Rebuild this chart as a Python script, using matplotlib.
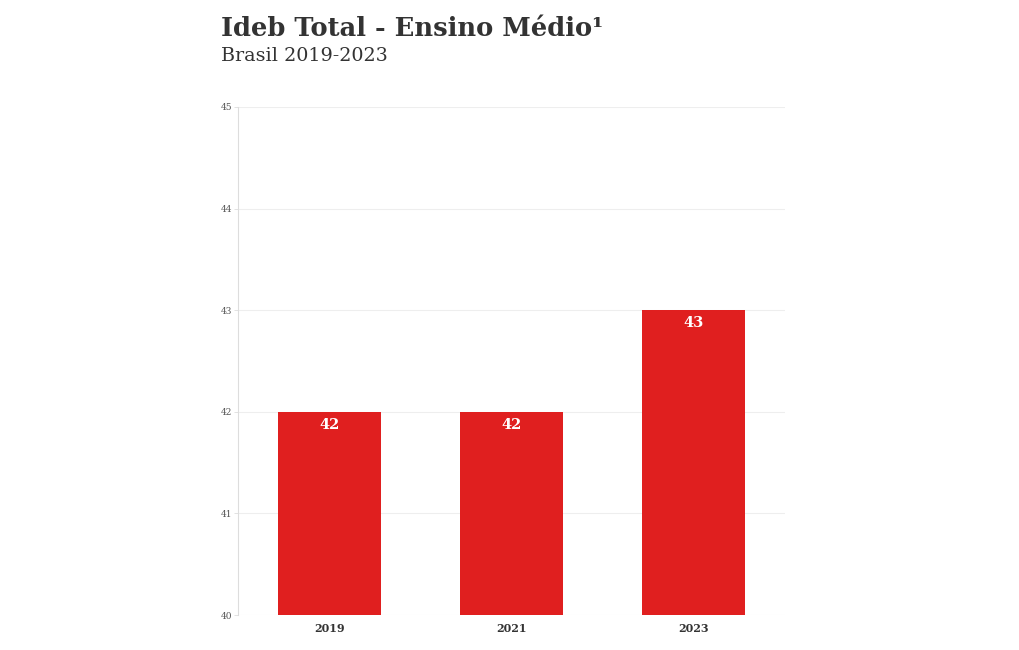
import matplotlib
matplotlib.use("Agg")
import matplotlib.pyplot as plt

anos = ["2019", "2021", "2023"]
ideb = [42, 42, 43]

plt.rcParams["font.family"] = ["DejaVu Serif"]

fig = plt.figure(figsize=(10.2, 6.5), dpi=100)
ax = fig.add_axes([0.2333, 0.0538, 0.5363, 0.7816])

x = range(len(anos))
ax.bar(x, ideb, width=0.565, color="#e01f1f", zorder=2)

for i, v in zip(x, ideb):
    ax.text(i, v - 0.06, str(v), ha="center", va="top", color="white",
            fontsize=10.5, fontweight="semibold", zorder=3)

ax.set_ylim(40, 45)
ax.set_xlim(-0.5, 2.5)
ax.set_xticks(list(x))
ax.set_xticklabels(anos, fontsize=8, fontweight="bold", color="#333333")
ax.set_yticks([40, 41, 42, 43, 44, 45])
ax.set_yticklabels(["40", "41", "42", "43", "44", "45"], fontsize=6.5, color="#555555")
ax.tick_params(axis="x", length=0, pad=6)
ax.tick_params(axis="y", length=3, width=0.6, color="#dddddd", pad=1)
ax.grid(axis="y", color="#eeeeee", linewidth=0.8, zorder=0)
for s in ["top", "right", "bottom"]:
    ax.spines[s].set_visible(False)
ax.spines["left"].set_color("#dddddd")
ax.spines["left"].set_linewidth(0.8)

fig.text(0.2167, 0.956, "Ideb Total - Ensino Médio¹", fontsize=18.5, fontweight="bold",
         color="#333333", va="center", ha="left")
fig.text(0.2167, 0.914, "Brasil 2019-2023", fontsize=13.8, color="#333333",
         va="center", ha="left")

fig.savefig("out.png", dpi=100)
